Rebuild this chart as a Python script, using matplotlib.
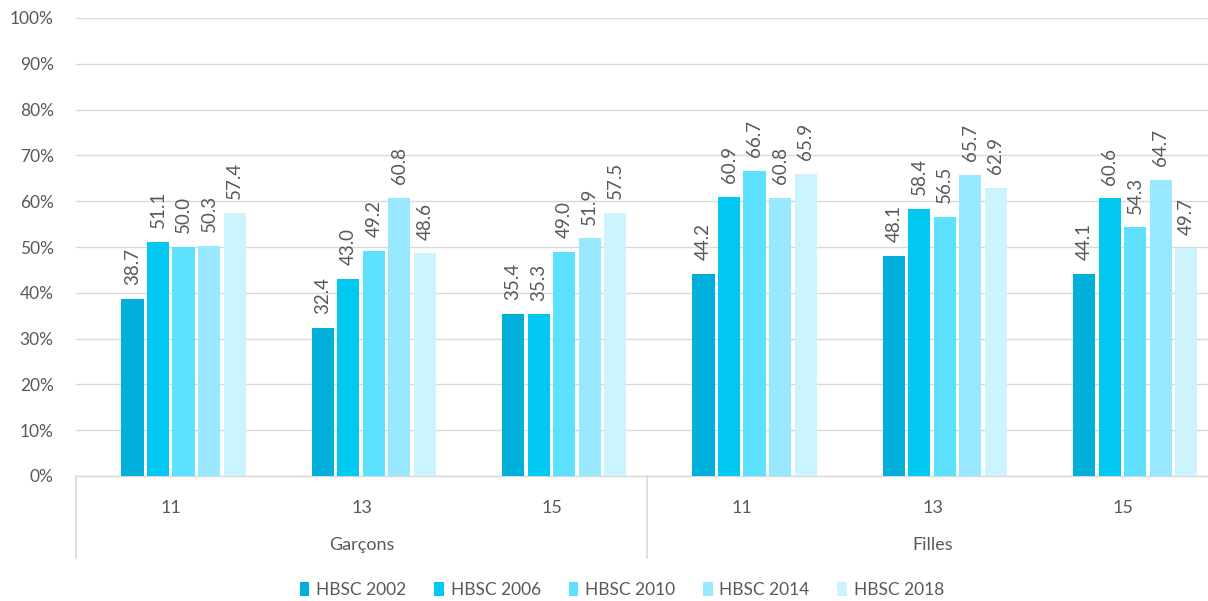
import numpy as np
import matplotlib.pyplot as plt
from matplotlib.ticker import FuncFormatter
from matplotlib.transforms import blended_transform_factory

plt.rcParams['font.family'] = ['Lato', 'DejaVu Sans']

ages = ['11', '13', '15', '11', '13', '15']
groups = ['Garçons', 'Filles']
series = ['HBSC 2002', 'HBSC 2006', 'HBSC 2010', 'HBSC 2014', 'HBSC 2018']
hbsc_2002 = [38.7, 32.4, 35.4, 44.2, 48.1, 44.1]
hbsc_2006 = [51.1, 43.0, 35.3, 60.9, 58.4, 60.6]
hbsc_2010 = [50.0, 49.2, 49.0, 66.7, 56.5, 54.3]
hbsc_2014 = [50.3, 60.8, 51.9, 60.8, 65.7, 64.7]
hbsc_2018 = [57.4, 48.6, 57.5, 65.9, 62.9, 49.7]
values = [hbsc_2002, hbsc_2006, hbsc_2010, hbsc_2014, hbsc_2018]
colors = ['#00B0DA', '#00C8F0', '#5EE0FF', '#98E8FF', '#CCF4FF']

txt = '#595959'
grid = '#D9D9D9'

fig = plt.figure(figsize=(12.08, 6.01), dpi=100)
ax = fig.add_axes([76 / 1208, 1 - 476 / 601, 1142 / 1208, 458 / 601])

x = np.arange(len(ages))
slot = 0.134
bw = 0.116
shift = 0.065
for i, (name, vals, c) in enumerate(zip(series, values, colors)):
    xs = x + shift + (i - 2) * slot
    ax.bar(xs, vals, width=bw, color=c, label=name, zorder=3)
    for xi, v in zip(xs, vals):
        ax.text(xi, v + 3.0, f'{v:.1f}', rotation=90, ha='center', va='bottom',
                fontsize=13.5, color=txt, zorder=4)

ax.set_xlim(-0.5, 5.5)
ax.set_ylim(0, 100)
ax.set_yticks(range(0, 101, 10))
ax.yaxis.set_major_formatter(FuncFormatter(lambda v, p: f'{int(v)}%'))
ax.grid(axis='y', color=grid, lw=1, zorder=0)
ax.set_xticks(x)
ax.set_xticklabels(ages)
ax.tick_params(axis='x', length=0, pad=17, labelsize=13, labelcolor=txt)
ax.tick_params(axis='y', length=0, pad=16, labelsize=12.5, labelcolor=txt)
for s in ['top', 'right', 'left']:
    ax.spines[s].set_visible(False)
ax.spines['bottom'].set_color(grid)
ax.spines['bottom'].set_linewidth(1)

tr = blended_transform_factory(ax.transData, ax.transAxes)
for xv in [-0.5, 2.5, 5.5]:
    ax.plot([xv, xv], [0, -82 / 458], transform=tr, color=grid, lw=1.2, clip_on=False)
for gi, g in enumerate(groups):
    ax.text(1 + 3 * gi, -69 / 458, g, transform=tr, ha='center', va='center',
            fontsize=13, color=txt)

fig.legend(loc='center', bbox_to_anchor=(622 / 1208, 1 - 590 / 601), ncol=5,
           frameon=False, handlelength=0.55, handleheight=0.9, handletextpad=0.4,
           columnspacing=1.6, fontsize=12.5, labelcolor=txt)

fig.savefig('out.png', dpi=100)
